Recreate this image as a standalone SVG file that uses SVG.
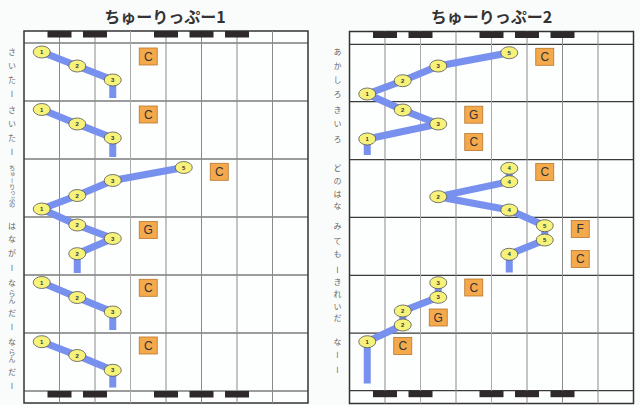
<svg xmlns="http://www.w3.org/2000/svg" width="640" height="405" viewBox="0 0 640 405">
<style>
.bg{fill:#fafcfc}
.frame{fill:#fdfefe;stroke:#333;stroke-width:1.5}
.row{stroke:#3a3a3a;stroke-width:1.2}
.col{stroke:#8a8a8a;stroke-width:1}
.key{fill:#2e2a2b}
.path{fill:none;stroke:#7890ee;stroke-width:7;stroke-linejoin:round;stroke-linecap:butt}
.nd ellipse{fill:#f7f27a;stroke:#555;stroke-width:0.8}
.nd text{font-family:"Liberation Sans",sans-serif;font-size:6px;font-weight:bold;fill:#333;text-anchor:middle;dominant-baseline:central}
.ch rect{fill:#f4a94c;stroke:#b8762a;stroke-width:0.8}
.ch text{font-family:"Liberation Sans",sans-serif;font-size:12px;fill:#333;text-anchor:middle;dominant-baseline:central}
.ly{font-family:"Noto Sans CJK JP",sans-serif;font-size:8px;fill:#666;text-anchor:middle;writing-mode:vertical-rl}
.ttl{font-family:"Noto Sans CJK JP",sans-serif;font-size:16px;font-weight:bold;fill:#333;text-anchor:middle}
</style>
<rect class="bg" x="0" y="0" width="640" height="405"/>

<text class="ttl" x="165" y="23">ちゅーりっぷー1</text>
<text class="ttl" x="491.5" y="23">ちゅーりっぷー2</text>

<g id="grid-left">
<rect class="frame" x="24" y="31" width="284" height="372"/>
<line class="row" x1="24" y1="43" x2="308" y2="43"/>
<line class="row" x1="24" y1="101" x2="308" y2="101"/>
<line class="row" x1="24" y1="159" x2="308" y2="159"/>
<line class="row" x1="24" y1="217" x2="308" y2="217"/>
<line class="row" x1="24" y1="275" x2="308" y2="275"/>
<line class="row" x1="24" y1="333" x2="308" y2="333"/>
<line class="row" x1="24" y1="391" x2="308" y2="391"/>
<line class="col" x1="59.5" y1="31" x2="59.5" y2="403"/>
<line class="col" x1="95" y1="31" x2="95" y2="403"/>
<line class="col" x1="130.5" y1="31" x2="130.5" y2="403" style="stroke:#aaa"/>
<line class="col" x1="166" y1="31" x2="166" y2="403"/>
<line class="col" x1="201.5" y1="31" x2="201.5" y2="403"/>
<line class="col" x1="237" y1="31" x2="237" y2="403"/>
<line class="col" x1="272.5" y1="31" x2="272.5" y2="403"/>
<rect class="key" x="47.5" y="31" width="24" height="6.5"/>
<rect class="key" x="83" y="31" width="24" height="6.5"/>
<rect class="key" x="154" y="31" width="24" height="6.5"/>
<rect class="key" x="189.5" y="31" width="24" height="6.5"/>
<rect class="key" x="225" y="31" width="24" height="6.5"/>
<rect class="key" x="47.5" y="391" width="24" height="6.5"/>
<rect class="key" x="83" y="391" width="24" height="6.5"/>
<rect class="key" x="154" y="391" width="24" height="6.5"/>
<rect class="key" x="189.5" y="391" width="24" height="6.5"/>
<rect class="key" x="225" y="391" width="24" height="6.5"/>
</g>

<g id="grid-right">
<rect class="frame" x="349.5" y="31.5" width="284" height="372"/>
<line class="row" x1="349.5" y1="44.3" x2="633.5" y2="44.3"/>
<line class="row" x1="349.5" y1="101.7" x2="633.5" y2="101.7"/>
<line class="row" x1="349.5" y1="159.6" x2="633.5" y2="159.6"/>
<line class="row" x1="349.5" y1="217.3" x2="633.5" y2="217.3"/>
<line class="row" x1="349.5" y1="275.3" x2="633.5" y2="275.3"/>
<line class="row" x1="349.5" y1="333.2" x2="633.5" y2="333.2"/>
<line class="row" x1="349.5" y1="390.7" x2="633.5" y2="390.7"/>
<line class="col" x1="385" y1="31.5" x2="385" y2="403.5"/>
<line class="col" x1="420.5" y1="31.5" x2="420.5" y2="403.5" style="stroke:#aaa"/>
<line class="col" x1="456" y1="31.5" x2="456" y2="403.5"/>
<line class="col" x1="491.5" y1="31.5" x2="491.5" y2="403.5" style="stroke:#aaa"/>
<line class="col" x1="527" y1="31.5" x2="527" y2="403.5"/>
<line class="col" x1="562.5" y1="31.5" x2="562.5" y2="403.5"/>
<line class="col" x1="598" y1="31.5" x2="598" y2="403.5"/>
<rect class="key" x="373" y="31.5" width="24" height="6.5"/>
<rect class="key" x="408.5" y="31.5" width="24" height="6.5"/>
<rect class="key" x="479.5" y="31.5" width="24" height="6.5"/>
<rect class="key" x="515" y="31.5" width="24" height="6.5"/>
<rect class="key" x="550.5" y="31.5" width="24" height="6.5"/>
<rect class="key" x="373" y="390.7" width="24" height="6.5"/>
<rect class="key" x="408.5" y="390.7" width="24" height="6.5"/>
<rect class="key" x="479.5" y="390.7" width="24" height="6.5"/>
<rect class="key" x="515" y="390.7" width="24" height="6.5"/>
<rect class="key" x="550.5" y="390.7" width="24" height="6.5"/>
</g>

<g id="lyrics-left">
<text class="ly" x="12" y="52">さ</text><text class="ly" x="12" y="66">い</text><text class="ly" x="12" y="80">た</text><text class="ly" x="12" y="94">ー</text>
<text class="ly" x="12" y="110">さ</text><text class="ly" x="12" y="124">い</text><text class="ly" x="12" y="138">た</text><text class="ly" x="12" y="152">ー</text>
<text class="ly" x="12" y="186.5" style="font-size:6.2px">ちゅーりっぷの</text>
<text class="ly" x="12" y="226">は</text><text class="ly" x="12" y="239">な</text><text class="ly" x="12" y="253">が</text><text class="ly" x="12" y="268">ー</text>
<text class="ly" x="12" y="283">な</text><text class="ly" x="12" y="293.5" style="font-size:7px">ら</text><text class="ly" x="12" y="300.5" style="font-size:7px">ん</text><text class="ly" x="12" y="313">だ</text><text class="ly" x="12" y="327">ー</text>
<text class="ly" x="12" y="342">な</text><text class="ly" x="12" y="352.5" style="font-size:7px">ら</text><text class="ly" x="12" y="359.5" style="font-size:7px">ん</text><text class="ly" x="12" y="372">だ</text><text class="ly" x="12" y="386">ー</text>
</g>

<g id="lyrics-right">
<text class="ly" x="337.5" y="52">あ</text><text class="ly" x="337.5" y="66">か</text><text class="ly" x="337.5" y="80">し</text><text class="ly" x="337.5" y="94">ろ</text>
<text class="ly" x="337.5" y="110">き</text><text class="ly" x="337.5" y="124">い</text><text class="ly" x="337.5" y="139">ろ</text>
<text class="ly" x="337.5" y="168">ど</text><text class="ly" x="337.5" y="181">の</text><text class="ly" x="337.5" y="194">は</text><text class="ly" x="337.5" y="206">な</text>
<text class="ly" x="337.5" y="226">み</text><text class="ly" x="337.5" y="241">て</text><text class="ly" x="337.5" y="254">も</text><text class="ly" x="337.5" y="270">ー</text>
<text class="ly" x="337.5" y="282">き</text><text class="ly" x="337.5" y="294">れ</text><text class="ly" x="337.5" y="307">い</text><text class="ly" x="337.5" y="318">だ</text>
<text class="ly" x="337.5" y="342">な</text><text class="ly" x="337.5" y="355">ー</text><text class="ly" x="337.5" y="370">ー</text>
</g>

<g id="connectors">
<polyline class="path" points="41.75,52 77.25,66 112.75,80 112.75,98"/>
<polyline class="path" points="41.75,109.5 77.25,124 112.75,138 112.75,157"/>
<polyline class="path" points="183.75,167.5 112.75,180.5 77.25,195.5 41.75,209 77.25,225 112.75,238.5 77.25,253.7 77.25,273"/>
<polyline class="path" points="41.75,282.5 77.25,297.5 112.75,312 112.75,330"/>
<polyline class="path" points="41.75,341.7 77.25,355.5 112.75,370.3 112.75,387.5"/>
<polyline class="path" points="509.25,52.7 438.25,66 402.75,80.7 367.25,94 402.75,110 438.25,124 367.25,139 367.25,155"/>
<polyline class="path" points="509.25,168.3 509.25,181.7 438.25,196.7 509.25,210 544.75,225.7 544.75,240 509.25,254.3 509.25,272.5"/>
<polyline class="path" points="438.25,282.7 438.25,297.3 402.75,311 402.75,325 367.25,341.7 367.25,383.5"/>
</g>

<g id="notes-left">
<g id="l1-1" class="nd"><ellipse cx="41.75" cy="52" rx="8.5" ry="6"/><text x="41.75" y="52">1</text></g>
<g id="l1-2" class="nd"><ellipse cx="77.25" cy="66" rx="8.5" ry="6"/><text x="77.25" y="66">2</text></g>
<g id="l1-3" class="nd"><ellipse cx="112.75" cy="80" rx="8.5" ry="6"/><text x="112.75" y="80">3</text></g>
<g id="l2-1" class="nd"><ellipse cx="41.75" cy="109.5" rx="8.5" ry="6"/><text x="41.75" y="109.5">1</text></g>
<g id="l2-2" class="nd"><ellipse cx="77.25" cy="124" rx="8.5" ry="6"/><text x="77.25" y="124">2</text></g>
<g id="l2-3" class="nd"><ellipse cx="112.75" cy="138" rx="8.5" ry="6"/><text x="112.75" y="138">3</text></g>
<g id="l3-5" class="nd"><ellipse cx="183.75" cy="167.5" rx="8.5" ry="6"/><text x="183.75" y="167.5">5</text></g>
<g id="l3-3" class="nd"><ellipse cx="112.75" cy="180.5" rx="8.5" ry="6"/><text x="112.75" y="180.5">3</text></g>
<g id="l3-2" class="nd"><ellipse cx="77.25" cy="195.5" rx="8.5" ry="6"/><text x="77.25" y="195.5">2</text></g>
<g id="l3-1" class="nd"><ellipse cx="41.75" cy="209" rx="8.5" ry="6"/><text x="41.75" y="209">1</text></g>
<g id="l4-2a" class="nd"><ellipse cx="77.25" cy="225" rx="8.5" ry="6"/><text x="77.25" y="225">2</text></g>
<g id="l4-3" class="nd"><ellipse cx="112.75" cy="238.5" rx="8.5" ry="6"/><text x="112.75" y="238.5">3</text></g>
<g id="l4-2b" class="nd"><ellipse cx="77.25" cy="253.7" rx="8.5" ry="6"/><text x="77.25" y="253.7">2</text></g>
<g id="l5-1" class="nd"><ellipse cx="41.75" cy="282.5" rx="8.5" ry="6"/><text x="41.75" y="282.5">1</text></g>
<g id="l5-2" class="nd"><ellipse cx="77.25" cy="297.5" rx="8.5" ry="6"/><text x="77.25" y="297.5">2</text></g>
<g id="l5-3" class="nd"><ellipse cx="112.75" cy="312" rx="8.5" ry="6"/><text x="112.75" y="312">3</text></g>
<g id="l6-1" class="nd"><ellipse cx="41.75" cy="341.7" rx="8.5" ry="6"/><text x="41.75" y="341.7">1</text></g>
<g id="l6-2" class="nd"><ellipse cx="77.25" cy="355.5" rx="8.5" ry="6"/><text x="77.25" y="355.5">2</text></g>
<g id="l6-3" class="nd"><ellipse cx="112.75" cy="370.3" rx="8.5" ry="6"/><text x="112.75" y="370.3">3</text></g>
</g>

<g id="notes-right">
<g id="r1-5" class="nd"><ellipse cx="509.25" cy="52.7" rx="8.5" ry="6"/><text x="509.25" y="52.7">5</text></g>
<g id="r1-3" class="nd"><ellipse cx="438.25" cy="66" rx="8.5" ry="6"/><text x="438.25" y="66">3</text></g>
<g id="r1-2" class="nd"><ellipse cx="402.75" cy="80.7" rx="8.5" ry="6"/><text x="402.75" y="80.7">2</text></g>
<g id="r1-1" class="nd"><ellipse cx="367.25" cy="94" rx="8.5" ry="6"/><text x="367.25" y="94">1</text></g>
<g id="r2-2" class="nd"><ellipse cx="402.75" cy="110" rx="8.5" ry="6"/><text x="402.75" y="110">2</text></g>
<g id="r2-3" class="nd"><ellipse cx="438.25" cy="124" rx="8.5" ry="6"/><text x="438.25" y="124">3</text></g>
<g id="r2-1" class="nd"><ellipse cx="367.25" cy="139" rx="8.5" ry="6"/><text x="367.25" y="139">1</text></g>
<g id="r3-4a" class="nd"><ellipse cx="509.25" cy="168.3" rx="8.5" ry="6"/><text x="509.25" y="168.3">4</text></g>
<g id="r3-4b" class="nd"><ellipse cx="509.25" cy="181.7" rx="8.5" ry="6"/><text x="509.25" y="181.7">4</text></g>
<g id="r3-2" class="nd"><ellipse cx="438.25" cy="196.7" rx="8.5" ry="6"/><text x="438.25" y="196.7">2</text></g>
<g id="r3-4c" class="nd"><ellipse cx="509.25" cy="210" rx="8.5" ry="6"/><text x="509.25" y="210">4</text></g>
<g id="r4-5a" class="nd"><ellipse cx="544.75" cy="225.7" rx="8.5" ry="6"/><text x="544.75" y="225.7">5</text></g>
<g id="r4-5b" class="nd"><ellipse cx="544.75" cy="240" rx="8.5" ry="6"/><text x="544.75" y="240">5</text></g>
<g id="r4-4" class="nd"><ellipse cx="509.25" cy="254.3" rx="8.5" ry="6"/><text x="509.25" y="254.3">4</text></g>
<g id="r5-3a" class="nd"><ellipse cx="438.25" cy="282.7" rx="8.5" ry="6"/><text x="438.25" y="282.7">3</text></g>
<g id="r5-3b" class="nd"><ellipse cx="438.25" cy="297.3" rx="8.5" ry="6"/><text x="438.25" y="297.3">3</text></g>
<g id="r5-2a" class="nd"><ellipse cx="402.75" cy="311" rx="8.5" ry="6"/><text x="402.75" y="311">2</text></g>
<g id="r5-2b" class="nd"><ellipse cx="402.75" cy="325" rx="8.5" ry="6"/><text x="402.75" y="325">2</text></g>
<g id="r6-1" class="nd"><ellipse cx="367.25" cy="341.7" rx="8.5" ry="6"/><text x="367.25" y="341.7">1</text></g>
</g>

<g id="chords-left">
<g id="lc1" class="ch"><rect x="139.25" y="48" width="18" height="17"/><text x="148.25" y="56.5">C</text></g>
<g id="lc2" class="ch"><rect x="139.25" y="106" width="18" height="17"/><text x="148.25" y="114.5">C</text></g>
<g id="lc3" class="ch"><rect x="210.25" y="163.3" width="18" height="17"/><text x="219.25" y="171.8">C</text></g>
<g id="lc4" class="ch"><rect x="139.25" y="221.5" width="18" height="17"/><text x="148.25" y="230">G</text></g>
<g id="lc5" class="ch"><rect x="139.25" y="279.3" width="18" height="17"/><text x="148.25" y="287.8">C</text></g>
<g id="lc6" class="ch"><rect x="139.25" y="337" width="18" height="17"/><text x="148.25" y="345.5">C</text></g>
</g>

<g id="chords-right">
<g id="rc1" class="ch"><rect x="535.75" y="48.3" width="18" height="17"/><text x="544.75" y="56.8">C</text></g>
<g id="rc2" class="ch"><rect x="464.75" y="106.2" width="18" height="17"/><text x="473.75" y="114.7">G</text></g>
<g id="rc3" class="ch"><rect x="464.75" y="133.5" width="18" height="17"/><text x="473.75" y="142">C</text></g>
<g id="rc4" class="ch"><rect x="535.75" y="163.5" width="18" height="17"/><text x="544.75" y="172">C</text></g>
<g id="rc5" class="ch"><rect x="571.25" y="220.5" width="18" height="17"/><text x="580.25" y="229">F</text></g>
<g id="rc6" class="ch"><rect x="571.25" y="250.5" width="18" height="17"/><text x="580.25" y="259">C</text></g>
<g id="rc7" class="ch"><rect x="464.75" y="279" width="18" height="17"/><text x="473.75" y="287.5">C</text></g>
<g id="rc8" class="ch"><rect x="429.25" y="309" width="18" height="17"/><text x="438.25" y="317.5">G</text></g>
<g id="rc9" class="ch"><rect x="393.75" y="337.5" width="18" height="17"/><text x="402.75" y="346">C</text></g>
</g>
</svg>
